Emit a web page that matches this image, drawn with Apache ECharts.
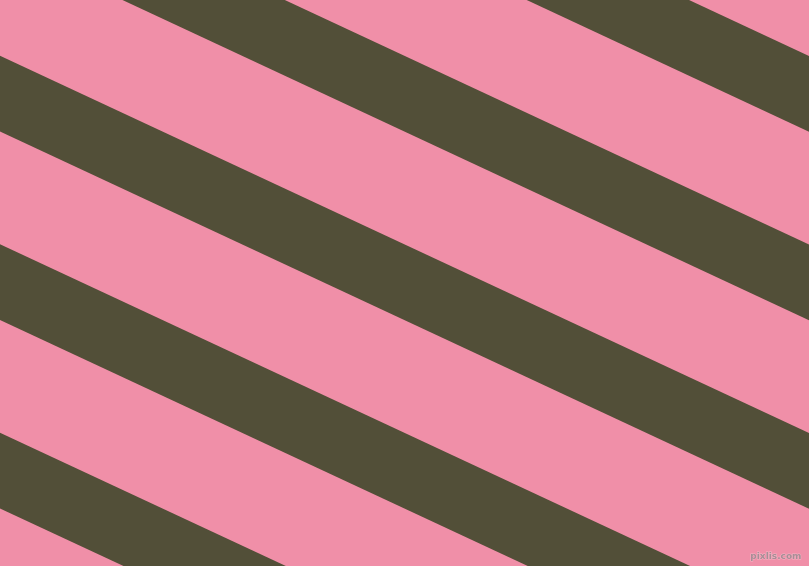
<!DOCTYPE html>
<html><head><meta charset="utf-8">
<script src="https://cdn.jsdelivr.net/npm/echarts@6/dist/echarts.min.js"></script>
<style>html,body{margin:0;padding:0;background:#F08FA8;}#c{width:809px;height:566px;}</style>
</head><body><div id="c"></div>
<script>
// Upper edge of each dark stripe, as y at x = 0 (pixels from top)
var stripeStarts = [-321.3, -132.8, 55.7, 244.2, 432.7];
// Vertical thickness of each stripe
var stripeThickness = [75.7, 75.7, 75.7, 75.7, 75.7];
var stripeSlope = 0.4663; // tan(25deg)
var xMax = 809, yMax = 566;

var data = stripeStarts.map(function (s, i) { return [s, stripeThickness[i]]; });

var chart = echarts.init(document.getElementById('c'), null, {renderer: 'canvas'});
chart.setOption({
  backgroundColor: '#F08FA8',
  animation: false,
  grid: {left: 0, right: 0, top: 0, bottom: 0},
  xAxis: {type: 'value', min: 0, max: xMax, show: false},
  yAxis: {type: 'value', min: 0, max: yMax, inverse: true, show: false},
  series: [{
    type: 'custom',
    clip: true,
    data: data,
    renderItem: function (params, api) {
      var a = api.value(0), w = api.value(1);
      var pts = [
        api.coord([0, a]),
        api.coord([xMax, a + xMax * stripeSlope]),
        api.coord([xMax, a + w + xMax * stripeSlope]),
        api.coord([0, a + w])
      ];
      return {
        type: 'polygon',
        shape: {points: pts},
        style: {fill: '#524F38'}
      };
    }
  }],
  graphic: [{
    type: 'text',
    right: 7,
    bottom: 4,
    style: {
      text: 'pixlis.com',
      font: 'bold 9px "DejaVu Sans"',
      fill: '#A88D96',
      stroke: '#F5B5C5',
      lineWidth: 1
    }
  }]
});
</script>
</body></html>
